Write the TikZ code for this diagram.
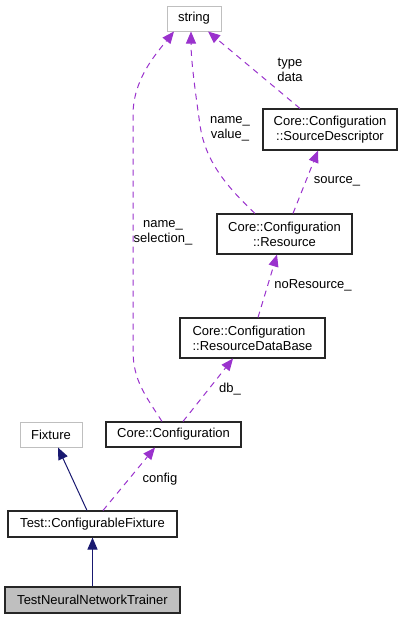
\documentclass[tikz,border=0pt]{standalone}
\usepackage{fontspec}
\setmainfont{Liberation Sans}
\usetikzlibrary{arrows.meta}
\definecolor{usecol}{HTML}{9A32CD}
\definecolor{inhcol}{HTML}{191970}
\definecolor{extgray}{HTML}{BFBFBF}
\begin{document}
\begin{tikzpicture}[x=1pt,y=-1pt,
  every node/.style={font=\fontsize{13}{15}\selectfont},
  cls/.style={draw=black!85,line width=1.1pt,inner sep=0pt,align=center},
  extcls/.style={draw=extgray,line width=1pt,inner sep=0pt},
  uses/.style={usecol,line width=1pt,dash pattern=on 6pt off 5pt,
    -{Triangle[length=12pt,width=10pt]}},
  inherits/.style={inhcol,line width=1pt,-{Triangle[length=12pt,width=10pt]}},
  lbl/.style={inner sep=0pt,align=center}]
  \useasboundingbox (0,0) rectangle (403,619);
  % classes
  \node[extcls,minimum width=54pt,minimum height=25pt] (string) at (194,18.5) {string};
  \node[cls,minimum width=134pt,minimum height=41pt] (srcdesc) at (330,129.5) {Core::Configuration\\::SourceDescriptor};
  \node[cls,minimum width=135pt,minimum height=40pt] (resource) at (284.5,234) {Core::Configuration\\::Resource};
  \node[cls,align=left,minimum width=145pt,minimum height=40pt] (resdb) at (252.5,338) {Core::Configuration\\::ResourceDataBase};
  \node[cls,minimum width=135pt,minimum height=25pt] (config) at (173.5,434.5) {Core::Configuration};
  \node[extcls,minimum width=62pt,minimum height=25pt] (fixture) at (51,434.5) {Fixture};
  \node[cls,minimum width=169pt,minimum height=26pt] (cfix) at (92.5,524) {Test::ConfigurableFixture};
  \node[cls,fill=extgray,minimum width=175pt,minimum height=26pt] (trainer) at (92.5,600) {TestNeuralNetworkTrainer};
  % inheritance
  \draw[inherits] (trainer.north) -- (cfix.south);
  \draw[inherits] ([xshift=-5.5pt]cfix.north) -- ([xshift=7pt]fixture.south);
  % usage
  \draw[uses] ([xshift=10.5pt]cfix.north) -- ([xshift=-18.5pt]config.south);
  \draw[uses] ([xshift=9.5pt]config.north) -- ([xshift=-19.5pt]resdb.south);
  \draw[uses] ([xshift=5.5pt]resdb.north) -- ([xshift=-7.5pt]resource.south);
  \draw[uses] ([xshift=8.5pt]resource.north) -- ([xshift=-12pt]srcdesc.south);
  \draw[uses] ([xshift=-30pt]srcdesc.north) -- ([xshift=14pt]string.south);
  \draw[uses] ([xshift=-29.5pt]resource.north) .. controls (225,185) and (205,160) .. (200,125)
    .. controls (195,90) and (191,60) .. ([xshift=-3pt]string.south);
  \draw[uses] ([xshift=-11.5pt]config.north) .. controls (145,395) and (133,380) .. (133,350)
    -- (133,115) .. controls (133,80) and (155,55) .. ([xshift=-20pt]string.south);
  % edge labels
  \node[lbl] (lconfig) at (160,479) {config};
  \node[lbl] (ldb) at (230,389) {db\_};
  \node[lbl] (lnores) at (313,285) {noResource\_};
  \node[lbl] (lsource) at (337,181) {source\_};
  \node[lbl] (ltype) at (290,70) {type\\data};
  \node[lbl] (lvalue) at (230,129) {name\_\\value\_};
  \node[lbl] (lsel) at (163,233) {name\_\\selection\_};
\end{tikzpicture}
\end{document}
